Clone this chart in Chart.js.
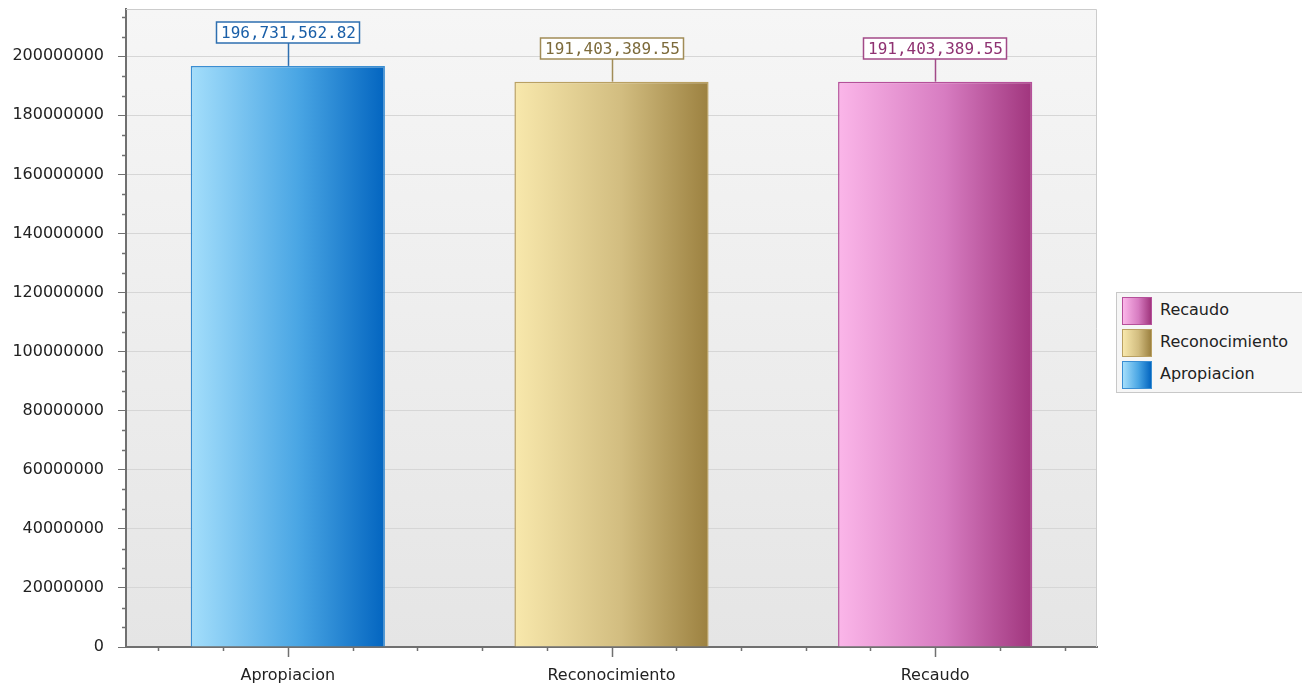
<!DOCTYPE html>
<html><head><meta charset="utf-8">
<script src="https://cdn.jsdelivr.net/npm/chart.js@4/dist/chart.umd.min.js"></script>
<style>
html,body{margin:0;padding:0;background:#fff;}
#wrap{position:relative;width:1302px;height:688px;overflow:hidden;}
canvas{display:block;}
#legend{position:absolute;left:1116px;top:292px;width:190px;height:101px;border:1px solid #c8c8c8;background:#f6f6f6;box-sizing:border-box;font:16px "DejaVu Sans",sans-serif;color:#222;}
.item{position:absolute;left:5px;height:28px;line-height:28px;white-space:nowrap;}
.sw{position:absolute;left:0;top:0;width:30px;height:28px;box-sizing:border-box;border:1px solid #999;}
.tx{position:absolute;left:38px;top:-1px;}
</style>
</head><body>
<div id="wrap"><canvas id="c" width="1302" height="688"></canvas><div id="legend"></div></div>
<script>
const categories = ['Apropiacion', 'Reconocimiento', 'Recaudo'];
const values = [196731562.82, 191403389.55, 191403389.55];
const valueLabels = ['196,731,562.82', '191,403,389.55', '191,403,389.55'];
const yTicks = [0, 20000000, 40000000, 60000000, 80000000, 100000000, 120000000, 140000000, 160000000, 180000000, 200000000];
const yMax = 216000000;

const lightColors = ['#a4defb', '#f8e8ac', '#fbb6e9'];
const midColors = ['#4aa6e4', '#d2bd80', '#d77cc1'];
const darkColors = ['#0365c0', '#9c8140', '#a0357d'];
const barBorders = ['#3a8ed2', '#b9a062', '#b5509a'];
const labelBorders = ['#2e6fb0', '#a18c57', '#a24a88'];
const labelText = ['#1a5fa8', '#7d6b3b', '#8f3272'];

function barGradient(ctx, i) {
  const chart = ctx.chart;
  const a = chart.chartArea;
  if (!a) return lightColors[i];
  const xs = chart.scales.x;
  const cx = xs.getPixelForValue(i);
  const w = (a.right - a.left) / categories.length * 0.6;
  const g = chart.ctx.createLinearGradient(cx - w / 2, 0, cx + w / 2, 0);
  g.addColorStop(0, lightColors[i]);
  g.addColorStop(0.55, midColors[i]);
  g.addColorStop(1, darkColors[i]);
  return g;
}

const datasets = categories.map((c, i) => ({
  label: c,
  data: values.map((v, j) => (j === i ? v : null)),
  grouped: false,
  barPercentage: 0.6,
  categoryPercentage: 1,
  backgroundColor: ctx => barGradient(ctx, i),
  borderColor: barBorders[i],
  borderWidth: 1.5,
  borderSkipped: 'bottom'
}));

const bgPlugin = {
  id: 'bg',
  beforeDraw(chart) {
    const a = chart.chartArea, c = chart.ctx;
    const g = c.createLinearGradient(0, a.top, 0, a.bottom);
    g.addColorStop(0, '#f6f6f6');
    g.addColorStop(1, '#e5e5e5');
    c.save();
    c.fillStyle = g;
    c.fillRect(a.left, a.top, a.right - a.left, a.bottom - a.top);
    c.restore();
  },
  afterDraw(chart) {
    const a = chart.chartArea, c = chart.ctx;
    c.save();
    c.strokeStyle = '#cccccc';
    c.lineWidth = 1;
    c.beginPath();
    c.moveTo(a.left, a.top + 0.5); c.lineTo(a.right - 0.5, a.top + 0.5); c.lineTo(a.right - 0.5, a.bottom);
    c.stroke();
    c.strokeStyle = '#707070';
    c.lineWidth = 1.5;
    const ys = chart.scales.y, xs = chart.scales.x;
    const step = 20000000 / 3;
    c.beginPath();
    for (let v = step; v <= yMax; v += step) {
      if (Math.abs(v / 20000000 - Math.round(v / 20000000)) < 1e-6) continue;
      const py = Math.round(ys.getPixelForValue(v)) + 0.5;
      c.moveTo(a.left - 4, py); c.lineTo(a.left, py);
    }
    for (let i = 0; i < categories.length; i++) {
      [-0.4, -0.2, 0, 0.2, 0.4].forEach(o => {
        const px = Math.round(xs.getPixelForValue(i + o)) + 0.5;
        c.moveTo(px, a.bottom); c.lineTo(px, a.bottom + (o === 0 ? 10 : 4));
      });
    }
    c.stroke();
    c.restore();
  }
};

const labelPlugin = {
  id: 'vlabels',
  afterDatasetsDraw(chart) {
    const c = chart.ctx;
    c.save();
    c.font = '16px "DejaVu Sans Mono", monospace';
    c.textAlign = 'center';
    c.textBaseline = 'middle';
    categories.forEach((cat, i) => {
      const el = chart.getDatasetMeta(i).data[i];
      if (!el) return;
      const x = Math.round(el.x), y = el.y;
      const txt = valueLabels[i];
      const tw = c.measureText(txt).width;
      const bw = Math.round(tw + 8), bh = 21;
      const bb = Math.round(y - 23);
      c.strokeStyle = labelBorders[i];
      c.lineWidth = 1.5;
      c.beginPath();
      c.moveTo(x + 0.5, bb); c.lineTo(x + 0.5, y);
      c.stroke();
      c.fillStyle = '#ffffff';
      c.fillRect(x - bw / 2, bb - bh, bw, bh);
      c.strokeRect(x - bw / 2, bb - bh, bw, bh);
      c.fillStyle = labelText[i];
      c.fillText(txt, x + 0.5, bb - bh / 2 + 1);
    });
    c.restore();
  }
};

new Chart(document.getElementById('c'), {
  type: 'bar',
  data: { labels: categories, datasets },
  options: {
    responsive: false,
    animation: false,
    devicePixelRatio: 1,
    layout: { padding: { top: 9, right: 205, left: 0, bottom: 0 } },
    plugins: { legend: { display: false }, tooltip: { enabled: false } },
    scales: {
      x: {
        afterFit(s) { s.height = 41; s.paddingLeft = 0; s.paddingRight = 0; },
        grid: { drawOnChartArea: false, drawTicks: false },
        border: { color: '#707070', width: 2 },
        ticks: { color: '#222', font: { family: 'DejaVu Sans', size: 16 }, padding: 19 }
      },
      y: {
        min: 0,
        max: yMax,
        afterFit(s) { s.width = 126; s.paddingTop = 0; s.paddingBottom = 0; },
        afterBuildTicks(s) { s.ticks = yTicks.map(v => ({ value: v })); },
        grid: { color: '#d6d6d6', tickColor: '#707070', tickLength: 8, lineWidth: 1 },
        border: { color: '#707070', width: 2 },
        ticks: { color: '#222', font: { family: 'DejaVu Sans', size: 16 }, padding: 14, callback: v => String(v) }
      }
    }
  },
  plugins: [bgPlugin, labelPlugin]
});

const leg = document.getElementById('legend');
[2, 1, 0].forEach((i, k) => {
  const it = document.createElement('div');
  it.className = 'item';
  it.style.top = (4 + k * 32) + 'px';
  const sw = document.createElement('div');
  sw.className = 'sw';
  sw.style.background = `linear-gradient(to right, ${lightColors[i]}, ${midColors[i]} 55%, ${darkColors[i]})`;
  sw.style.borderColor = barBorders[i];
  const tx = document.createElement('span');
  tx.className = 'tx';
  tx.textContent = categories[i];
  it.appendChild(sw); it.appendChild(tx);
  leg.appendChild(it);
});
</script>
</body></html>
